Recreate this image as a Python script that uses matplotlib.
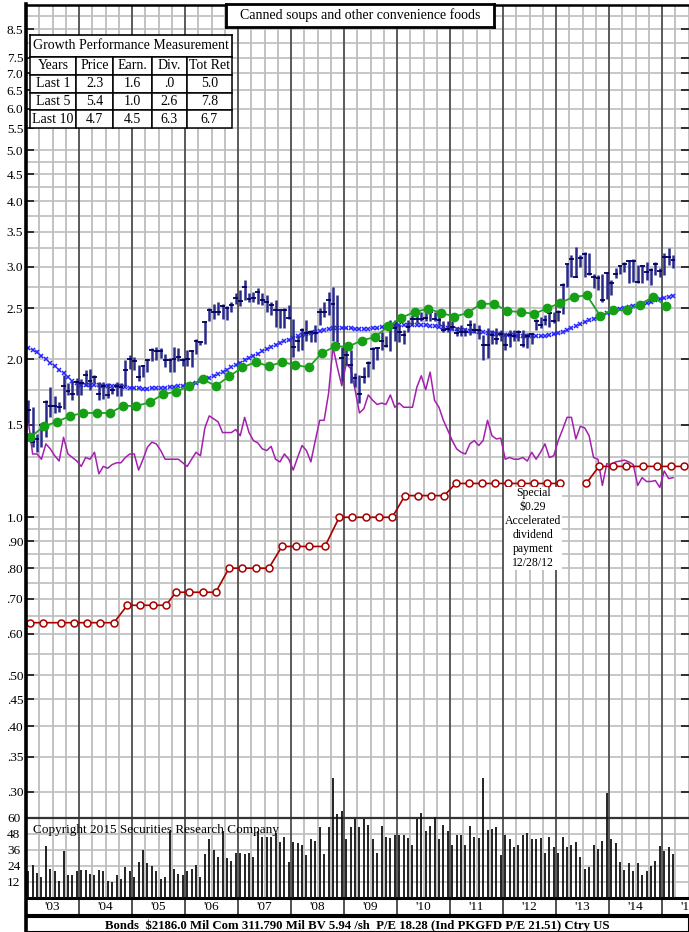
import matplotlib.pyplot as plt
import numpy as np
from matplotlib.lines import Line2D

plt.rcParams['font.family'] = ['Liberation Serif', 'DejaVu Serif']

W, H = 689, 932

# monthly price bars, Jan 2003 .. Mar 2015
high = [1.67, 1.62, 1.44, 1.51, 1.67, 1.77, 1.70, 1.66, 1.87, 1.80, 1.82, 1.84,
        1.83, 1.91, 1.92, 1.87, 1.81, 1.81, 1.80, 1.77, 1.81, 1.80, 1.99, 2.04,
        2.02, 1.95, 1.95, 1.99, 2.10, 2.11, 2.10, 2.05, 2.01, 2.11, 2.10, 2.01,
        2.08, 2.08, 2.19, 2.17, 2.36, 2.50, 2.55, 2.57, 2.55, 2.52, 2.57, 2.67,
        2.71, 2.83, 2.67, 2.69, 2.73, 2.67, 2.65, 2.57, 2.59, 2.48, 2.50, 2.54,
        2.39, 2.21, 2.29, 2.37, 2.27, 2.32, 2.50, 2.57, 2.69, 2.75, 2.65, 2.11,
        2.11, 2.08, 1.88, 1.87, 1.93, 1.98, 2.11, 2.11, 2.25, 2.21, 2.37, 2.37,
        2.32, 2.27, 2.37, 2.43, 2.46, 2.46, 2.50, 2.50, 2.46, 2.43, 2.36, 2.36,
        2.36, 2.30, 2.32, 2.29, 2.37, 2.34, 2.32, 2.22, 2.29, 2.27, 2.29, 2.27,
        2.24, 2.27, 2.27, 2.27, 2.27, 2.24, 2.24, 2.39, 2.41, 2.43, 2.48, 2.46,
        2.48, 2.79, 3.04, 3.16, 3.27, 3.16, 3.20, 3.18, 2.91, 2.89, 2.91, 2.93,
        2.83, 2.98, 3.02, 3.06, 3.09, 3.11, 3.02, 3.02, 3.06, 2.98, 3.06, 2.98,
        3.18, 3.25, 3.16]
low = [1.51, 1.36, 1.33, 1.36, 1.42, 1.55, 1.58, 1.59, 1.61, 1.71, 1.67, 1.71,
       1.71, 1.78, 1.75, 1.80, 1.67, 1.68, 1.69, 1.72, 1.70, 1.70, 1.78, 1.92,
       1.91, 1.82, 1.85, 1.89, 1.98, 1.99, 2.01, 1.93, 1.89, 1.89, 1.98, 1.94,
       1.94, 1.93, 2.05, 2.13, 2.14, 2.36, 2.39, 2.43, 2.39, 2.38, 2.46, 2.55,
       2.52, 2.59, 2.57, 2.57, 2.55, 2.54, 2.46, 2.43, 2.30, 2.29, 2.29, 2.39,
       2.02, 2.07, 2.08, 2.17, 2.16, 2.16, 2.32, 2.41, 2.43, 2.17, 2.14, 1.82,
       1.95, 1.80, 1.77, 1.65, 1.80, 1.85, 1.92, 1.99, 2.08, 2.11, 2.07, 2.17,
       2.16, 2.14, 2.25, 2.32, 2.34, 2.36, 2.36, 2.36, 2.36, 2.32, 2.25, 2.25,
       2.27, 2.21, 2.21, 2.21, 2.22, 2.24, 2.19, 1.99, 2.01, 2.14, 2.14, 2.17,
       2.08, 2.11, 2.17, 2.17, 2.11, 2.10, 2.14, 2.27, 2.29, 2.32, 2.30, 2.34,
       2.36, 2.44, 2.75, 2.87, 2.87, 3.00, 2.87, 2.89, 2.73, 2.71, 2.57, 2.60,
       2.65, 2.85, 2.91, 2.93, 2.79, 2.81, 2.79, 2.79, 2.83, 2.77, 2.89, 2.87,
       2.89, 3.02, 2.98]
close = [1.60, 1.39, 1.41, 1.50, 1.66, 1.63, 1.63, 1.62, 1.78, 1.74, 1.72, 1.81,
         1.80, 1.87, 1.82, 1.85, 1.72, 1.78, 1.71, 1.75, 1.78, 1.77, 1.91, 2.00,
         1.98, 1.85, 1.94, 1.99, 2.08, 2.07, 2.07, 1.99, 1.99, 2.00, 2.02, 1.99,
         2.00, 2.07, 2.17, 2.16, 2.35, 2.48, 2.46, 2.46, 2.52, 2.50, 2.54, 2.61,
         2.58, 2.75, 2.60, 2.61, 2.69, 2.59, 2.57, 2.54, 2.48, 2.48, 2.48, 2.40,
         2.11, 2.17, 2.27, 2.24, 2.25, 2.24, 2.46, 2.46, 2.59, 2.55, 2.14, 2.01,
         2.04, 1.95, 1.84, 1.72, 1.85, 1.97, 2.09, 2.10, 2.17, 2.12, 2.30, 2.29,
         2.25, 2.22, 2.30, 2.39, 2.39, 2.39, 2.40, 2.46, 2.39, 2.37, 2.27, 2.28,
         2.30, 2.24, 2.25, 2.25, 2.32, 2.27, 2.27, 2.13, 2.13, 2.22, 2.19, 2.23,
         2.13, 2.22, 2.21, 2.25, 2.13, 2.21, 2.23, 2.36, 2.32, 2.37, 2.45, 2.36,
         2.46, 2.77, 3.03, 3.11, 2.87, 3.12, 3.17, 2.90, 2.87, 2.85, 2.59, 2.92,
         2.79, 2.91, 3.01, 3.04, 3.08, 3.08, 2.81, 3.01, 2.93, 2.96, 3.04, 2.95,
         3.13, 3.13, 3.09]

# blue moving average (monthly)
moving_avg = [2.10, 2.08, 2.06, 2.03, 2.00, 1.97, 1.94, 1.91, 1.88, 1.85, 1.82, 1.80,
              1.79, 1.79, 1.785, 1.785, 1.785, 1.78, 1.78, 1.78, 1.78, 1.775, 1.77, 1.765,
              1.76, 1.76, 1.755, 1.755, 1.76, 1.76, 1.76, 1.765, 1.77, 1.77, 1.775, 1.78,
              1.785, 1.795, 1.805, 1.815, 1.83, 1.845, 1.86, 1.875, 1.89, 1.91, 1.93, 1.95,
              1.97, 1.99, 2.01, 2.03, 2.05, 2.07, 2.09, 2.11, 2.13, 2.15, 2.165, 2.18,
              2.195, 2.21, 2.22, 2.23, 2.24, 2.25, 2.26, 2.27, 2.28, 2.29, 2.29, 2.29,
              2.29, 2.29, 2.285, 2.285, 2.285, 2.285, 2.29, 2.29, 2.30, 2.30, 2.31, 2.315,
              2.32, 2.32, 2.32, 2.32, 2.32, 2.32, 2.32, 2.315, 2.31, 2.305, 2.30, 2.29,
              2.285, 2.28, 2.275, 2.27, 2.265, 2.26, 2.255, 2.25, 2.245, 2.24, 2.235, 2.23,
              2.225, 2.22, 2.22, 2.215, 2.21, 2.21, 2.21, 2.21, 2.21, 2.215, 2.22, 2.23,
              2.24, 2.25, 2.27, 2.29, 2.31, 2.33, 2.35, 2.37, 2.39, 2.41, 2.43, 2.45,
              2.46, 2.48, 2.49, 2.50, 2.51, 2.52, 2.53, 2.55, 2.56, 2.57, 2.59, 2.60,
              2.62, 2.63, 2.64]

# purple relative line (monthly)
relative = [1.53, 1.32, 1.32, 1.29, 1.38, 1.35, 1.31, 1.28, 1.42, 1.32, 1.30, 1.28,
            1.25, 1.30, 1.29, 1.33, 1.21, 1.25, 1.24, 1.26, 1.27, 1.27, 1.30, 1.32,
            1.32, 1.23, 1.29, 1.36, 1.39, 1.38, 1.34, 1.29, 1.29, 1.29, 1.29, 1.27,
            1.25, 1.29, 1.33, 1.31, 1.48, 1.56, 1.54, 1.52, 1.45, 1.45, 1.45, 1.47,
            1.43, 1.55, 1.45, 1.40, 1.385, 1.35, 1.34, 1.365, 1.29, 1.275, 1.32, 1.29,
            1.23, 1.30, 1.37, 1.34, 1.275, 1.40, 1.53, 1.53, 1.72, 2.11, 1.93, 1.78,
            1.96, 1.92, 1.75, 1.58, 1.61, 1.71, 1.67, 1.64, 1.65, 1.64, 1.71, 1.62,
            1.65, 1.62, 1.62, 1.62, 1.77, 1.86, 1.75, 1.89, 1.67, 1.62, 1.53, 1.465,
            1.40, 1.35, 1.33, 1.32, 1.38, 1.40, 1.37, 1.40, 1.53, 1.43, 1.41, 1.415,
            1.29, 1.30, 1.29, 1.29, 1.30, 1.28, 1.33, 1.29, 1.33, 1.38, 1.30, 1.31,
            1.40, 1.47, 1.55, 1.55, 1.41, 1.49, 1.48, 1.43, 1.30, 1.29, 1.15, 1.265,
            1.26, 1.275, 1.28, 1.285, 1.275, 1.26, 1.15, 1.19, 1.17, 1.17, 1.175, 1.14,
            1.225, 1.185, 1.19]

# monthly volume
volume = [20, 25, 19, 16, 39, 22, 20, 13, 35, 17, 17, 20,
          21, 21, 18, 17, 21, 20, 13, 12, 17, 14, 23, 20,
          16, 27, 36, 26, 24, 20, 14, 16, 50, 22, 18, 17,
          20, 22, 25, 16, 33, 44, 36, 31, 50, 30, 28, 34,
          34, 33, 34, 31, 50, 46, 46, 46, 49, 42, 46, 27,
          42, 41, 40, 32, 44, 43, 53, 33, 53, 90, 63, 65,
          44, 53, 59, 53, 59, 55, 44, 34, 54, 46, 45, 47,
          47, 47, 45, 40, 59, 64, 50, 54, 61, 44, 55, 50,
          40, 47, 47, 40, 54, 46, 45, 90, 51, 52, 53, 32,
          47, 44, 38, 40, 47, 49, 44, 44, 45, 34, 46, 38,
          34, 46, 38, 40, 42, 31, 22, 23, 40, 37, 43, 79,
          44, 41, 27, 21, 26, 20, 26, 17, 20, 24, 28, 39,
          35, 38, 33]

# quarterly earnings (green)
earnings = [1.42, 1.49, 1.52, 1.56, 1.58, 1.58, 1.58, 1.63, 1.63, 1.655, 1.715, 1.735,
            1.78, 1.83, 1.78, 1.855, 1.93, 1.975, 1.94, 1.975, 1.95, 1.93, 2.055, 2.115,
            2.115, 2.17, 2.205, 2.31, 2.40, 2.46, 2.495, 2.45, 2.41, 2.45, 2.55, 2.55,
            2.47, 2.46, 2.44, 2.50, 2.56, 2.63, 2.645, 2.42, 2.48, 2.48, 2.54, 2.63, 2.52]

# dividends (annual rate), two segments
div_dates_a = [2003.08, 2003.32, 2003.66, 2003.91, 2004.15, 2004.40, 2004.66,
               2004.91, 2005.15, 2005.40, 2005.64, 2005.83, 2006.08, 2006.34, 2006.58,
               2006.83, 2007.08, 2007.34, 2007.58, 2007.83, 2008.09, 2008.34, 2008.64,
               2008.91, 2009.15, 2009.42, 2009.66, 2009.91, 2010.15, 2010.40, 2010.64,
               2010.89, 2011.11, 2011.36, 2011.60, 2011.85, 2012.09, 2012.34, 2012.58,
               2012.83, 2013.08]
div_vals_a = [0.63] * 7 + [0.68] * 4 + [0.72] * 4 + [0.80] * 4 + [0.88] * 4 + \
             [1.00] * 5 + [1.10] * 4 + [1.16] * 9
div_dates_b = [2013.57, 2013.81, 2014.08, 2014.32, 2014.64, 2014.91, 2015.17, 2015.42]
div_vals_b = [1.16] + [1.25] * 7

price_ticks = [0.30, 0.35, 0.40, 0.45, 0.50, 0.60, 0.70, 0.80, 0.90, 1.0, 1.5, 2.0, 2.5,
               3.0, 3.5, 4.0, 4.5, 5.0, 5.5, 6.0, 6.5, 7.0, 7.5, 8.5]
price_grid = [0.30, 0.35, 0.40, 0.45, 0.50, 0.55, 0.60, 0.65, 0.70, 0.75, 0.80, 0.85,
              0.90, 0.95, 1.0, 1.1, 1.2, 1.3, 1.4, 1.5, 1.75, 2.0, 2.25, 2.5, 2.75, 3.0,
              3.25, 3.5, 3.75, 4.0, 4.25, 4.5, 4.75, 5.0, 5.5, 6.0, 6.5, 7.0, 7.5, 8.0,
              8.5, 9.0]
vol_ticks = [12, 24, 36, 48, 60]
year_labels = ["'03", "'04", "'05", "'06", "'07", "'08", "'09", "'10", "'11", "'12",
               "'13", "'14", "'15"]

table_head = ['Years', 'Price', 'Earn.', 'Div.', 'Tot Ret']
table_rows = [['Last 1', '2.3', '1.6', '.0', '5.0'],
              ['Last 5', '5.4', '1.0', '2.6', '7.8'],
              ['Last 10', '4.7', '4.5', '6.3', '6.7']]

t = 2003 + (np.arange(len(high)) + 0.5) / 12
t_earn = 2003 + (np.arange(len(earnings)) * 3 + 1) / 12

GRID = '#bdbdbd'


def box(x0, y0, x1, y1):
    return [x0 / W, 1 - y1 / H, (x1 - x0) / W, (y1 - y0) / H]


fig = plt.figure(figsize=(W / 100, H / 100), dpi=100)
xlim = (2003, 2003 + 663 / 53)


def draw_vgrid(ax):
    for q in np.arange(2003, 2015.6, 0.25):
        if abs(q - round(q)) < 1e-6:
            ax.axvline(q, color='#5a5a5a', lw=1.4, zorder=0.5)
        else:
            ax.axvline(q, color=GRID, lw=1.3, zorder=0.3)


# price panel
ax = fig.add_axes(box(26, 5, 689, 818))
ax.set_yscale('log')
ax.set_xlim(*xlim)
ax.set_ylim(0.2676, 9.45)
draw_vgrid(ax)
for g in price_grid:
    ax.axhline(g, color=GRID, lw=1.2, zorder=0.3)

ax.plot(t, relative, color='#a41fb0', lw=1.1, zorder=2)
ax.plot(div_dates_a, div_vals_a, color='#a80000', lw=1.2, marker='o', ms=5,
        mfc='white', mec='#a80000', mew=1.1, zorder=3)
ax.plot(div_dates_b, div_vals_b, color='#a80000', lw=1.2, marker='o', ms=5,
        mfc='white', mec='#a80000', mew=1.1, zorder=3)
ax.plot(t, moving_avg, color='#2525ff', lw=0.7, ls=':', marker='x', ms=3.2,
        mew=1.1, zorder=3)
ax.vlines(t, low, high, color='#2a2a8a', lw=1.8, zorder=4)
ax.hlines(close, t - 0.045, t + 0.045, color='#000060', lw=1.3, zorder=4)
ax.plot(t_earn, earnings, color='#22a022', lw=1.3, marker='o', ms=6,
        mfc='#16a016', mec='#16a016', zorder=5)

ax.text(2012.57, 0.953, 'Special\n$0.29\nAccelerated\ndividend\npayment\n12/28/12',
        ha='center', va='center', fontsize=8.5, linespacing=1.22, zorder=6,
        bbox=dict(fc='white', ec='none', pad=0.5))

ax.set_yticks(price_ticks)
ax.set_yticklabels([('%.2f' % v)[1:] if v < 1 else '%.1f' % v for v in price_ticks])
ax.yaxis.set_minor_locator(plt.NullLocator())
ax.tick_params(axis='y', which='major', direction='in', length=6, width=1.3,
               labelsize=9.5, pad=2, right=True, color='#222222')
ax.set_xticks([])
for s in ['right', 'bottom']:
    ax.spines[s].set_visible(False)
ax.spines['top'].set_linewidth(1.8)
ax.spines['left'].set_visible(False)

# volume panel
axv = fig.add_axes(box(26, 818, 689, 898))
axv.set_xlim(*xlim)
axv.set_ylim(0, 60)
axv.set_zorder(ax.get_zorder() + 1)
draw_vgrid(axv)
for g in vol_ticks[:-1]:
    axv.axhline(g, color=GRID, lw=1.2, zorder=0.3)
axv.vlines(t, 0, volume, color='#111111', lw=1.3, zorder=3, clip_on=False)
axv.set_yticks(vol_ticks)
axv.tick_params(axis='y', length=0, labelsize=9.5, pad=4)
axv.set_xticks([])
axv.spines['top'].set_color('#333333')
axv.spines['top'].set_linewidth(1.6)
axv.spines['bottom'].set_linewidth(2.2)
axv.spines['right'].set_visible(False)
axv.spines['left'].set_visible(False)
fig.text(33 / W, 1 - 830 / H, 'Copyright 2015 Securities Research Company',
         fontsize=9.5, va='center', ha='left', zorder=10)

# year label strip
axx = fig.add_axes(box(26, 898, 689, 915))
axx.set_xlim(*xlim)
axx.set_ylim(0, 1)
for y in range(2004, 2016):
    axx.axvline(y, color='#333333', lw=1.2)
for i, lab in enumerate(year_labels):
    axx.text(2003 + i + 0.5, 0.45, lab, ha='center', va='center', fontsize=9.5,
             clip_on=False)
axx.set_xticks([])
axx.set_yticks([])
for s in ['top', 'right', 'left']:
    axx.spines[s].set_visible(False)
axx.spines['bottom'].set_linewidth(1.5)

# bottom info box
axb = fig.add_axes(box(26, 917, 689, 932))
axb.set_xticks([])
axb.set_yticks([])
for s in axb.spines.values():
    s.set_linewidth(1.5)
axb.text(0.5, 0.45, 'Bonds  $2186.0 Mil Com 311.790 Mil BV 5.94 /sh  P/E 18.28 '
         '(Ind PKGFD P/E 21.51) Ctry US', ha='center', va='center',
         fontsize=9.2, fontweight='bold', transform=axb.transAxes)

# thick left rule
fig.add_artist(Line2D([26 / W, 26 / W], [0, 1 - 4 / H], color='black', lw=2.6,
                      transform=fig.transFigure, zorder=20))

# title box
axt = fig.add_axes(box(226, 4, 494, 27))
axt.set_xticks([])
axt.set_yticks([])
for s in axt.spines.values():
    s.set_linewidth(2)
axt.text(0.5, 0.5, 'Canned soups and other convenience foods', ha='center',
         va='center', fontsize=10, transform=axt.transAxes)

# growth table
tt = fig.add_axes(box(30, 35, 231.7, 56.7))
tt.set_xticks([])
tt.set_yticks([])
for s in tt.spines.values():
    s.set_linewidth(1.2)
tt.text(0.5, 0.5, 'Growth Performance Measurement', ha='center', va='center',
        fontsize=10, transform=tt.transAxes)

td = fig.add_axes(box(30, 56.7, 231.7, 128.3))
td.axis('off')
widths = np.array([46, 37.3, 38.4, 35, 45])
tbl = td.table(cellText=[table_head] + table_rows, colWidths=list(widths / widths.sum()),
               cellLoc='center', bbox=[0, 0, 1, 1])
tbl.auto_set_font_size(False)
tbl.set_fontsize(10)
for cell in tbl.get_celld().values():
    cell.set_linewidth(1.1)

fig.savefig('out.png', dpi=100)
